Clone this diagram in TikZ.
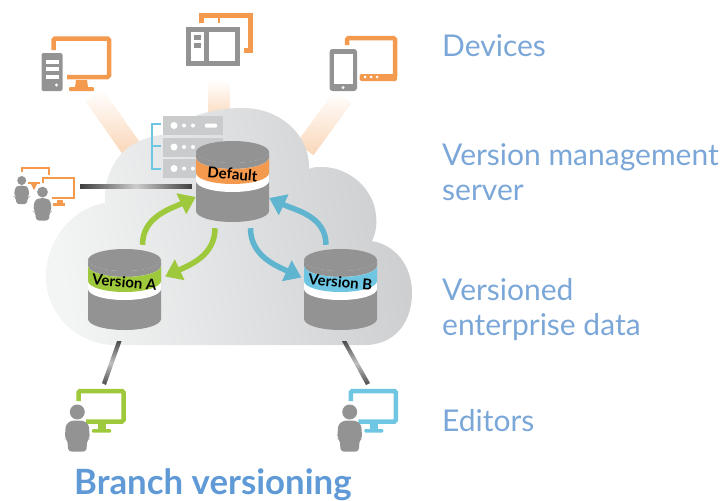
\documentclass[tikz,border=0pt]{standalone}
\usepackage{fontspec}
\setmainfont{Lato}
\usetikzlibrary{arrows.meta,calc}
\definecolor{devorange}{HTML}{F39A4F}
\definecolor{vergreen}{HTML}{9FC93C}
\definecolor{verblue}{HTML}{5FB5D0}
\definecolor{edblue}{HTML}{6EC6E3}
\definecolor{rackgray}{HTML}{CACBCC}
\definecolor{bodygray}{HTML}{939393}
\definecolor{labelblue}{HTML}{7BA7D8}
\definecolor{titleblue}{HTML}{5F9AD6}
\definecolor{cloudlight}{HTML}{F3F4F4}
\definecolor{clouddark}{HTML}{CDCED0}
\tikzset{
  sidelabel/.style={anchor=west,align=left,inner sep=0pt,text=labelblue,font=\fontsize{30}{35}\selectfont},
  titlelabel/.style={anchor=base west,inner sep=0pt,text=titleblue,font=\fontsize{34.8}{40}\selectfont\bfseries},
  dbbody/.style={inner sep=0pt,minimum width=73pt,minimum height=81pt},
  dblabel/.style={inner sep=0pt,rotate=-5,font=\fontsize{15}{17}\selectfont\bfseries},
  bendarrow/.style={line width=5.5pt,-{Triangle[length=16pt,width=22pt]}},
  monline/.style={line width=4.5pt,rounded corners=1.5pt},
  beam/.style={top color=white,bottom color=devorange!40},
  linkline/.style={top color=black!70,bottom color=black!70,middle color=black!25}
}
% cylinder: name, top centre, band colour, label
\newcommand{\dbband}[2]{(-36.5,#1) -- (-36.5,#2) arc[start angle=180,end angle=0,x radius=36.5,y radius=11] -- (36.5,#1) arc[start angle=0,end angle=180,x radius=36.5,y radius=11] -- cycle}
\newcommand{\dbstack}[4]{
  \node[dbbody] (#1) at ($(#2)+(0,29.5)$) {};
  \begin{scope}[shift={(#2)}]
    \fill[bodygray] (0,0) ellipse[x radius=36.5,y radius=11];
    \fill[bodygray] \dbband{0}{59};
    \fill[white] \dbband{6}{29};
    \fill[#3] \dbband{6}{21};
    \node[dblabel] at (0,22) {#4};
  \end{scope}
}
% figure with head and shoulders
\newcommand{\person}[3]{
  \begin{scope}[shift={(#1,#2)},scale=#3]
    \fill[bodygray] (0,-7.5) circle[radius=7.5];
    \fill[bodygray,rounded corners=3pt] (-12.5,19) -- (-11.5,5) -- (-6,1) -- (6,1) -- (11.5,5) -- (12.5,19) -- (10,20) -- (9,32) -- (-9,32) -- (-10,20) -- cycle;
  \end{scope}
}
% monitor seen behind a person
\newcommand{\editor}[2]{
  \begin{scope}[shift={(#1,0)}]
    \draw[#2,monline] (78.5,401) -- (78.5,391) -- (123.5,391) -- (123.5,421.5) -- (86,421.5);
    \fill[#2] (98,424) rectangle (106,429);
    \fill[#2,rounded corners=1pt] (92,429) rectangle (111,432.5);
    \person{77.3}{419.5}{1}
  \end{scope}
}
\begin{document}
\begin{tikzpicture}[x=1pt,y=-1pt]
\useasboundingbox (0,0) rectangle (721,501);

% faded beams from the devices
\coordinate (deskend) at (94,95);
\coordinate (deskcloud) at (131,148);
\coordinate (panelend) at (219,80);
\coordinate (panelcloud) at (219,120);
\coordinate (tabend) at (343,97);
\coordinate (tabcloud) at (305,149);
\shade[beam] ($(deskend)!10.5pt!90:(deskcloud)$) -- ($(deskend)!10.5pt!-90:(deskcloud)$) -- ($(deskcloud)!10.5pt!90:(deskend)$) -- ($(deskcloud)!10.5pt!-90:(deskend)$) -- cycle;
\shade[beam] ($(panelend)!10.5pt!90:(panelcloud)$) -- ($(panelend)!10.5pt!-90:(panelcloud)$) -- ($(panelcloud)!10.5pt!90:(panelend)$) -- ($(panelcloud)!10.5pt!-90:(panelend)$) -- cycle;
\shade[beam] ($(tabend)!10.5pt!90:(tabcloud)$) -- ($(tabend)!10.5pt!-90:(tabcloud)$) -- ($(tabcloud)!10.5pt!90:(tabend)$) -- ($(tabcloud)!10.5pt!-90:(tabend)$) -- cycle;

% cloud
\shade[left color=cloudlight,right color=clouddark,shading angle=100]
  (115,345) -- (365,345)
  .. controls (395,345) and (412,322) .. (412,293)
  .. controls (412,265) and (395,245) .. (372,241)
  .. controls (376,232) and (377,225) .. (376,215)
  .. controls (374,190) and (350,167) .. (322,167)
  .. controls (317,167) and (313,167) .. (309,169)
  .. controls (310,135) and (280,108) .. (243,108)
  .. controls (205,108) and (175,122) .. (165,135)
  .. controls (155,135) and (145,138) .. (138,142)
  .. controls (118,150) and (103,175) .. (105,203)
  .. controls (72,208) and (46,240) .. (46,277)
  .. controls (46,315) and (78,345) .. (115,345) -- cycle;

% server rack
\foreach \rackY in {116,137.5,159}{
  \fill[rackgray] (163,\rackY) rectangle (223,\rackY+19);
  \fill[white] (174,\rackY+9.5) circle[radius=3.5];
  \fill[white] (184,\rackY+9.5) circle[radius=2];
  \fill[white] (193,\rackY+9.5) circle[radius=2];
  \fill[white,rounded corners=1pt] (205,\rackY+7.5) rectangle (217,\rackY+11.5);
}
\draw[edblue,line width=2.5pt] (161,124) -- (152,124) -- (152,169) -- (161,169);
\draw[edblue,line width=2.5pt] (152,146) -- (161,146);

% desktop
\draw[devorange,monline] (53.5,50) -- (53.5,38.5) -- (109,38.5) -- (109,77) -- (67,77);
\fill[devorange] (76,80) -- (87,80) -- (88,87) -- (75,87) -- cycle;
\fill[devorange,rounded corners=1pt] (69,87) rectangle (94,91);
\fill[bodygray,rounded corners=2pt] (41.5,53) rectangle (62.5,91);
\foreach \barY in {60,67,75}{
  \fill[white] (46,\barY) rectangle (58.5,\barY+3.5);
}
\fill[white] (56.5,85) circle[radius=1.7];

% panels
\draw[devorange,line width=5pt] (201,23) -- (201,15.5) -- (250.5,15.5) -- (250.5,50) -- (244,50);
\draw[devorange,line width=2.5pt] (219,15) -- (219,23);
\fill[bodygray] (186,27) rectangle (240,66);
\fill[white] (191,32) rectangle (204,60.5);
\fill[white] (209,32) rectangle (234.5,60.5);
\fill[bodygray] (194,35) rectangle (201,39.5);
\fill[bodygray] (194,43) rectangle (201,47.5);

% tablet and phone
\draw[devorange,monline] (347,45) -- (347,38) -- (395,38) -- (395,76);
\fill[devorange,rounded corners=1.5pt] (359.5,74) rectangle (397,81);
\foreach \dotX in {365,371,377}{
  \fill[white] (\dotX,77) circle[radius=1.5];
}
\fill[bodygray,rounded corners=3pt] (329.5,49) rectangle (357,91);
\fill[white] (334,54) rectangle (352.7,84);
\fill[white] (343,87.5) circle[radius=1.5];

% users on the left
\draw[devorange,line width=2pt] (22,172) -- (22,167.5) -- (48.5,167.5) -- (48.5,175);
\draw[devorange,line width=2pt] (28,183) -- (40,183);
\fill[devorange] (31,184) -- (37,184) -- (34,190) -- cycle;
\draw[devorange,line width=2.5pt] (43,183) -- (43,178) -- (74,178) -- (74,198) -- (52,198);
\fill[devorange] (57,200) rectangle (63,203);
\fill[devorange] (53,203) rectangle (65,205.5);
\person{21.7}{185}{0.6}
\person{42.5}{197.5}{0.72}

% servers and versions
\dbstack{dbdefault}{232.5,152}{devorange}{Default}
\dbstack{dbverA}{124.5,260}{vergreen}{Version A}
\dbstack{dbverB}{340.5,260}{edblue}{Version B}

% editors
\editor{0}{vergreen}
\editor{272.4}{edblue}

% links
\coordinate (usersend) at (80,186.5);
\shade[left color=black!75,right color=black!75,middle color=black!20] ($(usersend)+(0,-2)$) rectangle ($(dbdefault.west)+(-4,7)$);
\coordinate (edAend) at (104,384);
\coordinate (edBend) at (368,384);
\shade[linkline] ($(dbverA.south)+(-7.5,11)$) -- ($(dbverA.south)+(-3,11)$) -- ($(edAend)+(2,1)$) -- ($(edAend)+(-2,-1)$) -- cycle;
\shade[linkline] ($(dbverB.south)+(1.5,11)$) -- ($(dbverB.south)+(6,11)$) -- ($(edBend)+(2,-1)$) -- ($(edBend)+(-2,1)$) -- cycle;

% update arrows
\draw[vergreen,bendarrow] ([xshift=18pt,yshift=4pt]dbverA.north) to[out=90,in=205] ([yshift=-15.5pt]dbdefault.west);
\draw[vergreen,bendarrow] ([xshift=-17.5pt,yshift=-6pt]dbdefault.south) to[out=-90,in=25] ([xshift=4pt,yshift=13pt]dbverA.east);
\draw[verblue,bendarrow] ([xshift=18pt,yshift=-6pt]dbdefault.south) to[out=-90,in=155] ([xshift=-2.5pt,yshift=12pt]dbverB.west);
\draw[verblue,bendarrow] ([xshift=-14.5pt,yshift=4pt]dbverB.north) to[out=90,in=-25] ([yshift=-16.5pt]dbdefault.east);

% labels
\node[sidelabel] (devices) at (442,46) {Devices};
\node[sidelabel] (mgmt) at (442,172) {Version management\\server};
\node[sidelabel] (entdata) at (442,310) {Versioned\\enterprise data};
\node[sidelabel] (editors) at (442,421) {Editors};
\node[titlelabel] (title) at (74,494) {Branch versioning};

\end{tikzpicture}
\end{document}
